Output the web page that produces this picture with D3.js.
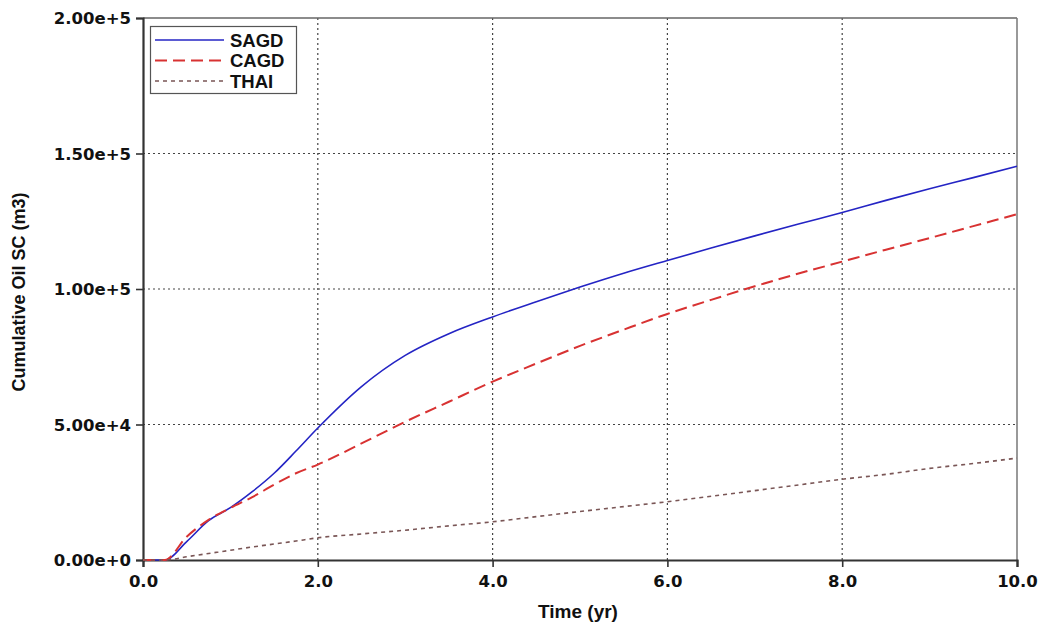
<!DOCTYPE html>
<html>
<head>
<meta charset="utf-8">
<script src="https://cdn.jsdelivr.net/npm/d3@7"></script>
<style>
  html, body { margin: 0; padding: 0; background: #fff; }
  svg { display: block; }
</style>
</head>
<body>
<svg id="chart" width="1046" height="629"></svg>
<script>
// Simulation time steps (years)
const times = [0, 0.25, 0.5, 0.75, 1.0, 1.25, 1.5, 1.75, 2.0, 2.5, 3.0, 3.5, 4.0, 4.5, 5.0, 5.5, 6.0, 6.5, 7.0, 7.5, 8.0, 8.5, 9.0, 9.5, 10.0];

// Cumulative oil at surface conditions (m3) for each recovery process
const sagd = [0, 0, 6800, 14500, 19300, 25200, 32000, 40200, 48700, 64000, 75500, 83500, 89700, 95300, 100700, 105800, 110500, 115100, 119600, 124000, 128200, 132700, 137000, 141100, 145300];
const cagd = [0, 0, 8600, 14800, 19200, 23200, 27800, 32000, 35200, 43000, 51000, 58400, 65800, 72500, 79000, 85000, 90800, 96000, 101000, 105700, 110100, 114500, 118800, 123200, 127600];
const thai = [0, 0, 1200, 2400, 3600, 4800, 5900, 7000, 8200, 9600, 11000, 12600, 14100, 16000, 17900, 19700, 21500, 23500, 25600, 27700, 29800, 31600, 33800, 35600, 37600];

const seriesNames = ["SAGD", "CAGD", "THAI"];
const xTicks = [0, 2, 4, 6, 8, 10];
const yTicks = [0, 50000, 100000, 150000, 200000];

const svg = d3.select("#chart");
const plotL = 143, plotR = 1017, plotT = 18, plotB = 560;

const x = d3.scaleLinear().domain([0, 10]).range([plotL, plotR]);
const y = d3.scaleLinear().domain([0, 200000]).range([plotB, plotT]);

const tickFont = "'DejaVu Sans', Verdana, sans-serif";
const titleFont = "'Liberation Sans', Arial, sans-serif";

// Dotted grid
const grid = svg.append("g");
grid.selectAll("line.gx").data(xTicks.slice(1, -1)).join("line")
  .attr("x1", d => x(d)).attr("x2", d => x(d))
  .attr("y1", plotT).attr("y2", plotB)
  .attr("stroke", "#444").attr("stroke-width", 1.2).attr("stroke-dasharray", "2,3");
grid.selectAll("line.gy").data(yTicks.slice(1, -1)).join("line")
  .attr("x1", plotL).attr("x2", plotR)
  .attr("y1", d => y(d)).attr("y2", d => y(d))
  .attr("stroke", "#444").attr("stroke-width", 1.2).attr("stroke-dasharray", "2,3");

// Frame: top and right edges
svg.append("line").attr("x1", plotL).attr("x2", plotR).attr("y1", plotT).attr("y2", plotT)
  .attr("stroke", "#666").attr("stroke-width", 1.5);
svg.append("line").attr("x1", plotR).attr("x2", plotR).attr("y1", plotT).attr("y2", plotB)
  .attr("stroke", "#777").attr("stroke-width", 1.5);

// Axes
const xAxis = d3.axisBottom(x).tickValues(xTicks).tickFormat(d3.format(".1f")).tickSize(7).tickPadding(6);
const yAxis = d3.axisLeft(y).tickValues(yTicks).tickFormat(d3.format(".2e")).tickSize(7).tickPadding(5);

const gx = svg.append("g").attr("transform", `translate(0,${plotB})`).call(xAxis);
const gy = svg.append("g").attr("transform", `translate(${plotL},0)`).call(yAxis);
[gx, gy].forEach(g => {
  g.select(".domain").attr("stroke", "#333").attr("stroke-width", 2.2);
  g.selectAll(".tick line").attr("stroke", "#333").attr("stroke-width", 1.6);
  g.selectAll(".tick text").attr("fill", "#111")
    .style("font-family", tickFont).style("font-weight", "bold").style("font-size", "16.5px");
});
gx.selectAll(".tick text").attr("dy", "0.85em");
gy.selectAll(".tick text").attr("dy", "0.35em");

// Axis titles
svg.append("text").attr("x", 578).attr("y", 618)
  .attr("text-anchor", "middle")
  .style("font-family", titleFont).style("font-weight", "bold").style("font-size", "19px")
  .attr("fill", "#111").text("Time (yr)");
svg.append("text").attr("transform", `translate(25,${(plotT + plotB) / 2 + 3}) rotate(-90)`)
  .attr("text-anchor", "middle")
  .style("font-family", titleFont).style("font-weight", "bold").style("font-size", "18px")
  .attr("fill", "#111").text("Cumulative Oil SC (m3)");

// Curves
const styles = [
  { values: sagd, color: "#2424c4", dash: null, width: 1.6 },
  { values: cagd, color: "#d83232", dash: "12,6", width: 2 },
  { values: thai, color: "#7a5656", dash: "4,4", width: 1.6 }
];
const line = d3.line().x(d => x(d[0])).y(d => y(d[1])).curve(d3.curveMonotoneX);
styles.forEach(s => {
  svg.append("path")
    .datum(times.map((t, i) => [t, s.values[i]]))
    .attr("d", line)
    .attr("fill", "none")
    .attr("stroke", s.color)
    .attr("stroke-width", s.width)
    .attr("stroke-dasharray", s.dash);
});

// Legend
const lg = svg.append("g");
lg.append("rect").attr("x", 150.5).attr("y", 26.5).attr("width", 146).attr("height", 67)
  .attr("fill", "#fff").attr("stroke", "#555").attr("stroke-width", 1.2);
styles.forEach((s, i) => {
  const ly = 40 + i * 20.5;
  lg.append("line").attr("x1", 155).attr("x2", 224).attr("y1", ly).attr("y2", ly)
    .attr("stroke", s.color).attr("stroke-width", s.width).attr("stroke-dasharray", s.dash);
  lg.append("text").attr("x", 230).attr("y", ly).attr("dy", "0.36em")
    .style("font-family", titleFont).style("font-weight", "bold").style("font-size", "18.5px")
    .attr("fill", "#111").text(seriesNames[i]);
});
</script>
</body>
</html>
